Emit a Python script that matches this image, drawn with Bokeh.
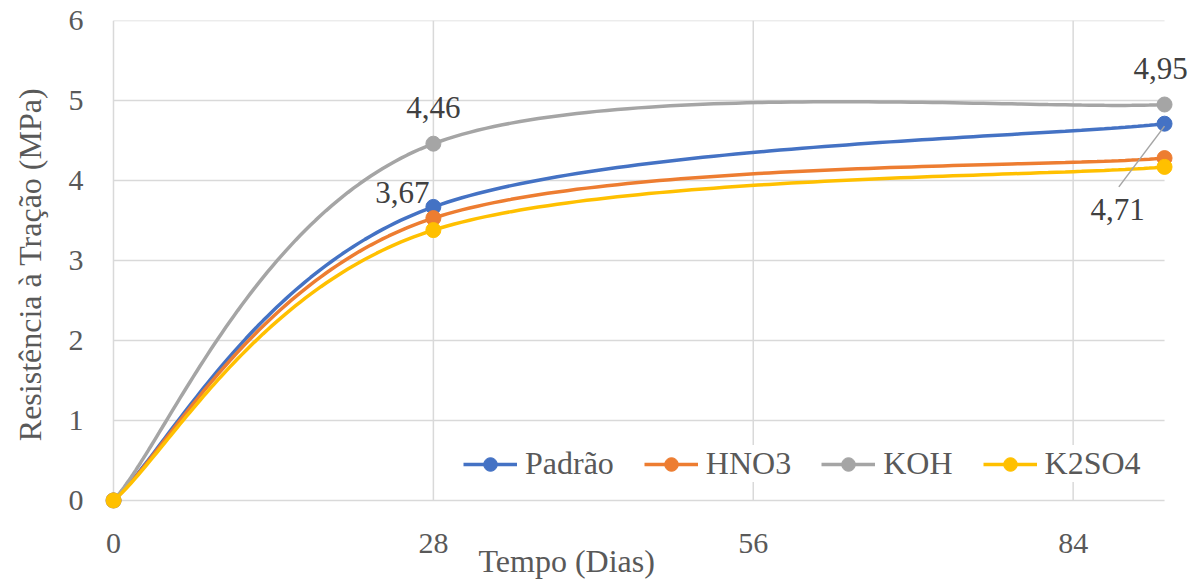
import numpy as np
from bokeh.plotting import figure
from bokeh.models import ColumnDataSource, LabelSet, Legend, LegendItem, FixedTicker, Title, Range1d
from bokeh.embed import file_html
from bokeh.resources import INLINE

days = [0, 28, 92]
series_names = ["Padrão", "HNO3", "KOH", "K2SO4"]
padrao = [0, 3.67, 4.71]
hno3 = [0, 3.53, 4.28]
koh = [0, 4.46, 4.95]
k2so4 = [0, 3.38, 4.17]
colors = ["#4472C4", "#ED7D31", "#A5A5A5", "#FFC000"]
x_ticks = [0, 28, 56, 84]
y_ticks = [0, 1, 2, 3, 4, 5, 6]

FONT = "Liberation Serif"
GREY_TXT = "#595959"
GRID = "#D9D9D9"


def smooth(xs, ys, n=80):
    """Excel-like smoothed line: cubic Bezier through points (Catmull-Rom, tension 1/6)."""
    P = np.column_stack([xs, ys]).astype(float)
    m = len(P)
    out = []
    for i in range(m - 1):
        p0 = P[i - 1] if i > 0 else P[i]
        p1 = P[i]
        p2 = P[i + 1]
        p3 = P[i + 2] if i + 2 < m else P[i + 1]
        c1 = p1 + (p2 - p0) / 6.0
        c2 = p2 - (p3 - p1) / 6.0
        t = np.linspace(0, 1, n)[:, None]
        seg = ((1 - t) ** 3) * p1 + 3 * ((1 - t) ** 2) * t * c1 + 3 * (1 - t) * t ** 2 * c2 + t ** 3 * p2
        out.append(seg if i == 0 else seg[1:])
    arr = np.vstack(out)
    return arr[:, 0], arr[:, 1]


# frame is a little larger than the data area so that markers at the edges are not clipped
p = figure(width=1200, height=580, output_backend="svg", toolbar_location=None,
           x_range=Range1d(-0.7, 94.71), y_range=Range1d(-0.1, 6),
           min_border_left=105, min_border_right=5, min_border_top=20, min_border_bottom=72)
p.outline_line_color = None
p.background_fill_color = "white"
p.border_fill_color = "white"

p.xaxis.ticker = FixedTicker(ticks=x_ticks)
p.yaxis.ticker = FixedTicker(ticks=y_ticks)
p.xgrid.grid_line_color = None
p.ygrid.grid_line_color = None
# gridlines limited to the data area (0..last day, 0..6)
p.multi_line(xs=[[0, days[-1]] for _ in y_ticks], ys=[[v, v] for v in y_ticks],
             line_color=GRID, line_width=1.5)
p.multi_line(xs=[[v, v] for v in x_ticks], ys=[[y_ticks[0], y_ticks[-1]] for _ in x_ticks],
             line_color=GRID, line_width=1.5)

for ax in (p.xaxis, p.yaxis):
    ax.axis_line_color = None
    ax.major_tick_line_color = None
    ax.minor_tick_line_color = None
    ax.major_label_text_font = FONT
    ax.major_label_text_font_size = "30px"
    ax.major_label_text_color = GREY_TXT
    ax.axis_label_text_font = FONT
    ax.axis_label_text_font_style = "normal"
    ax.axis_label_text_font_size = "32px"
    ax.axis_label_text_color = GREY_TXT
p.xaxis.major_label_standoff = 19
p.yaxis.major_label_standoff = 16
p.yaxis.axis_label = "Resistência à Tração (MPa)"
p.yaxis.axis_label_standoff = 18

xtitle = Title(text="Tempo (Dias)", align="left", offset=373, text_font=FONT,
               text_font_size="32px", text_font_style="normal", text_color=GREY_TXT,
               vertical_align="top")
try:
    xtitle.standoff = -26
except Exception:
    xtitle.standoff = 0
    p.xaxis.major_label_standoff = 6
p.add_layout(xtitle, "below")

items = []
for name, ys, col in zip(series_names, [padrao, hno3, koh, k2so4], colors):
    sx, sy = smooth(days, ys)
    r1 = p.line(sx, sy, line_color=col, line_width=3.5)
    r2 = p.scatter(days, ys, marker="circle", size=15, fill_color=col, line_color=col)
    items.append(LegendItem(label=name, renderers=[r1, r2]))

# leader line for the 4,71 label
p.segment(x0=[days[-1] - 4.0], y0=[padrao[-1] - 0.79], x1=[days[-1]], y1=[padrao[-1] - 0.03],
          line_color="#A5A5A5", line_width=1.5)

fmt = lambda v: f"{v:.2f}".replace(".", ",")
lab_src = ColumnDataSource(dict(
    x=[days[1], days[1], days[2], days[2]],
    y=[koh[1], padrao[1], koh[2], padrao[2]],
    text=[fmt(koh[1]), fmt(padrao[1]), fmt(koh[2]), fmt(padrao[2])],
    xo=[0, -4, -4, -47],
    yo=[36, 14, 36, -86],
    align=["center", "right", "center", "center"],
))
p.add_layout(LabelSet(x="x", y="y", text="text", source=lab_src, x_offset="xo", y_offset="yo",
                      text_align="align", text_baseline="middle", text_font=FONT,
                      text_font_size="31px", text_color="#404040"))

legend = Legend(items=items, orientation="horizontal", location=(358, 26),
                label_text_font=FONT, label_text_font_size="32px", label_text_color=GREY_TXT,
                glyph_width=54, glyph_height=34, label_standoff=8, spacing=30,
                border_line_color=None, background_fill_color="white", background_fill_alpha=1.0,
                padding=4, margin=0)
p.add_layout(legend, "center")

open("out.html", "w").write(file_html(p, INLINE))
